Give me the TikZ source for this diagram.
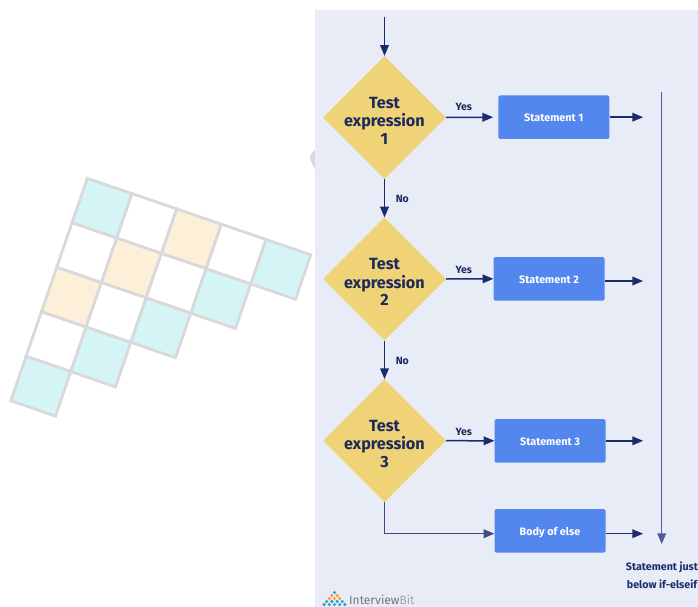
\documentclass[tikz,border=0pt]{standalone}
\usepackage{fontspec}
\setmainfont{Fira Sans}
\usetikzlibrary{arrows, shapes.geometric}
\definecolor{panelblue}{HTML}{E8ECF7}
\definecolor{testyellow}{HTML}{F0D277}
\definecolor{boxblue}{HTML}{5487EE}
\definecolor{arrownavy}{HTML}{1C2B6E}
\definecolor{textnavy}{HTML}{1B2A5C}
\definecolor{linenavy}{HTML}{4C5C9C}
\definecolor{gridgray}{HTML}{D9D9D9}
\definecolor{cellcyan}{HTML}{D5F4F6}
\definecolor{cellorange}{HTML}{FEEFD8}
\definecolor{logogray}{HTML}{6F7680}
\newcommand{\testlabel}[1]{\smash{\clap{\raisebox{-9.5pt}{\fontsize{16.2}{17.5}\selectfont\bfseries\color{textnavy}\begin{tabular}{@{}c@{}}Test\\expression\\#1\end{tabular}}}}}
\tikzset{
testbox/.style={diamond,fill=testyellow,inner sep=0pt,minimum width=123pt,minimum height=123pt},
stmtbox/.style={rectangle,rounded corners=1.5pt,fill=boxblue,text=white,font=\fontsize{10.8}{12}\selectfont\bfseries,text height=8.5pt,text depth=0pt,minimum width=111pt,minimum height=43.5pt,inner sep=0pt},
flowline/.style={-triangle 45,line width=1.5pt,color=arrownavy},
flowtext/.style={text=textnavy,font=\fontsize{10.5}{12}\selectfont\bfseries,inner sep=0pt}
}
\begin{document}
\begin{tikzpicture}[x=1pt,y=-1pt]
\clip (0,0) rectangle (698,607);
% tilted grid
\foreach \i/\j/\c in {0/0/cellcyan,1/0/white,2/0/cellorange,3/0/white,4/0/cellcyan,
0/1/white,1/1/cellorange,2/1/white,3/1/cellcyan,
0/2/cellorange,1/2/white,2/2/cellcyan,
0/3/white,1/3/cellcyan,
0/4/cellcyan}
\draw[line width=2.8pt,color=gridgray,fill=\c,line join=miter]
({87.3+\i*44.7-\j*15.3},{178.3+\i*15.3+\j*44.5}) -- ++(44.7,15.3) -- ++(-15.3,44.5) -- ++(-44.7,-15.3) -- cycle;
\fill[gridgray,rounded corners=3pt] (309,157) -- (316,148) -- (320,175) -- (316,172) -- cycle;

\fill[panelblue] (315,10) rectangle (698,607);

% tests
\node[testbox] (test1) at (384.5,117.5) {\testlabel{1}};
\node[testbox] (test2) at (384.5,279) {\testlabel{2}};
\node[testbox] (test3) at (384.5,440.7) {\testlabel{3}};

% statements
\node[stmtbox] (stmt1) at (553.8,117.2) {Statement 1};
\node[stmtbox] (stmt2) at (549,278.8) {Statement 2};
\node[stmtbox] (stmt3) at (550,440.8) {Statement 3};
\node[stmtbox] (stmt4) at (550,530.8) {Body of else};

\coordinate (start) at (384.5,17);
\coordinate (end1) at (643,117.2);
\coordinate (end2) at (643,281);
\coordinate (end3) at (643,440.8);
\coordinate (end4) at (643,533.7);
\coordinate (busTop) at (661.7,92);
\coordinate (busEnd) at (661.7,544);

\draw[flowline] (start) -- (test1.north);
\draw[flowline] (test1.south) -- (test2.north);
\draw[flowline] (test2.south) -- (test3.north);
\draw[flowline] (test1.east) -- ([xshift=-5pt]stmt1.west);
\draw[flowline] (test2.east) -- (stmt2.west);
\draw[flowline] (test3.east) -- (stmt3.west);
\draw[flowline,color=arrownavy!85!white] (test3.south) |- ([yshift=-2.9pt]stmt4.west);
\draw[flowline] (stmt1.east) -- (end1);
\draw[flowline] ([yshift=-2.2pt]stmt2.east) -- (end2);
\draw[flowline] (stmt3.east) -- (end3);
\draw[flowline] ([yshift=-2.9pt]stmt4.east) -- (end4);
\draw[flowline,color=linenavy] (busTop) -- (busEnd);

\node[flowtext] (yes1) at (463.7,106.7) {Yes};
\node[flowtext] (yes2) at (463.7,270) {Yes};
\node[flowtext] (yes3) at (463.7,431.8) {Yes};
\node[flowtext] (no1) at (402.3,199.3) {No};
\node[flowtext] (no2) at (402.3,361) {No};
\node[flowtext,text=arrownavy,align=center,font=\fontsize{10.7}{17.7}\selectfont\bfseries] (after) at (662,575) {Statement just\\below if-elseif};

% logo
\foreach \r/\k/\c in {0/0/cyan!70!teal,1/0/orange!80,1/1/orange!80,2/0/orange!80,2/1/orange!80,2/2/orange!80,
3/0/cyan!70!teal,3/1/cyan!70!teal,3/2/cyan!70!teal,3/3/cyan!70!teal,
4/0/cyan!70!teal,4/1/cyan!70!teal,4/2/cyan!70!teal,4/3/cyan!70!teal,4/4/cyan!70!teal}
\fill[\c] ({334.5+(\k-\r/2)*5.2},{592.5+\r*3}) circle (1.7);
\node[anchor=west,inner sep=0pt,text=logogray,font=\fontsize{12}{13}\selectfont] (logo) at (349,600) {Interview\textcolor{logogray!65!white}{Bit}};
\end{tikzpicture}
\end{document}
